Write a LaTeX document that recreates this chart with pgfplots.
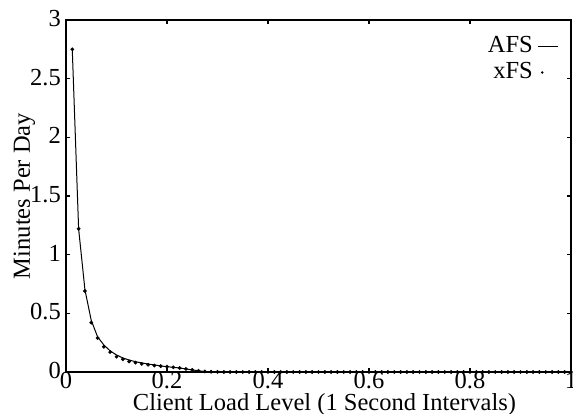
\documentclass[border=0pt]{standalone}
\usepackage{fontspec}
\setmainfont{Liberation Serif}
\usepackage{pgfplots}
\pgfplotsset{compat=1.18}

\begin{document}
\fontsize{24.5}{28}\selectfont
\begin{tikzpicture}
\begin{axis}[
  scale only axis,
  width=505pt, height=352pt,
  xmin=0, xmax=1, ymin=0, ymax=3,
  xtick={0,0.2,0.4,0.6,0.8,1},
  ytick={0,0.5,1,1.5,2,2.5,3},
  /pgf/number format/assume math mode=true,
  tick align=inside,
  major tick length=4pt,
  tick style={line width=1.4pt,black},
  axis line style={line width=1.6pt},
  xticklabel style={inner sep=0pt,yshift=-0.5pt},
  yticklabel style={inner sep=0pt,xshift=-5pt,yshift=1.5pt},
  xlabel={Client Load Level (1 Second Intervals)},
  ylabel={Minutes Per Day},
  every axis x label/.style={at={(rel axis cs:0.5,0)},anchor=center,inner sep=0pt,xshift=6pt,yshift=-33pt},
  every axis y label/.style={at={(rel axis cs:0,0.5)},rotate=90,anchor=center,inner sep=0pt,yshift=41.5pt},
  legend cell align=right,
  legend plot pos=right,
  legend style={draw=none,fill=none,inner sep=0pt,nodes={inner sep=0pt},
    row sep=6.5pt,column sep=5pt,
    at={(rel axis cs:1,1)},anchor=north east,xshift=-12pt,yshift=-16pt},
]
\addplot[black,line width=1pt,
  legend image code/.code={\draw[black,line width=1pt] (0pt,0pt) -- (20pt,0pt);}]
coordinates {
(0.0125,2.74)(0.025,1.22)(0.0375,0.70)(0.05,0.44)(0.0625,0.30)(0.075,0.23)
(0.0875,0.18)(0.1,0.145)(0.1125,0.12)(0.125,0.102)(0.1375,0.088)(0.15,0.077)
(0.1625,0.068)(0.175,0.060)(0.1875,0.052)(0.2,0.045)(0.2125,0.040)(0.225,0.034)
(0.2375,0.026)(0.25,0.018)(0.2625,0.010)(0.275,0.004)(0.2875,0.001)(0.3,0)
(0.5,0)(0.75,0)(1,0)
};
\addlegendentry{AFS}
\addplot[black,only marks,mark=*,mark size=1.7pt,
  legend image code/.code={\path[draw=none,fill=none] (0pt,0pt) -- (20pt,0pt);
    \fill[black,draw=none] (4pt,0pt) circle (1.4pt);}]
coordinates {
(0.0125,2.75)(0.025,1.22)(0.0375,0.69)(0.05,0.42)(0.0625,0.29)(0.075,0.215)
(0.0875,0.17)(0.1,0.13)(0.1125,0.108)(0.125,0.09)(0.1375,0.08)(0.15,0.07)
(0.1625,0.062)(0.175,0.055)(0.1875,0.05)(0.2,0.045)(0.2125,0.04)(0.225,0.034)
(0.2375,0.026)(0.25,0.018)(0.2625,0.01)(0.275,0.005)(0.2875,0.002)(0.3,0.001)
(0.3125,0)(0.325,0)(0.3375,0)(0.35,0)(0.3625,0)(0.375,0)(0.3875,0)(0.4,0)
(0.4125,0)(0.425,0)(0.4375,0)(0.45,0)(0.4625,0)(0.475,0)(0.4875,0)(0.5,0)
(0.5125,0)(0.525,0)(0.5375,0)(0.55,0)(0.5625,0)(0.575,0)(0.5875,0)(0.6,0)
(0.6125,0)(0.625,0)(0.6375,0)(0.65,0)(0.6625,0)(0.675,0)(0.6875,0)(0.7,0)
(0.7125,0)(0.725,0)(0.7375,0)(0.75,0)(0.7625,0)(0.775,0)(0.7875,0)(0.8,0)
(0.8125,0)(0.825,0)(0.8375,0)(0.85,0)(0.8625,0)(0.875,0)(0.8875,0)(0.9,0)
(0.9125,0)(0.925,0)(0.9375,0)(0.95,0)(0.9625,0)(0.975,0)(0.9875,0)(1,0)
};
\addlegendentry{xFS}
\end{axis}
\pgfresetboundingbox
\useasboundingbox (-66pt,-42pt) rectangle (507pt,372pt);
\end{tikzpicture}
\end{document}
